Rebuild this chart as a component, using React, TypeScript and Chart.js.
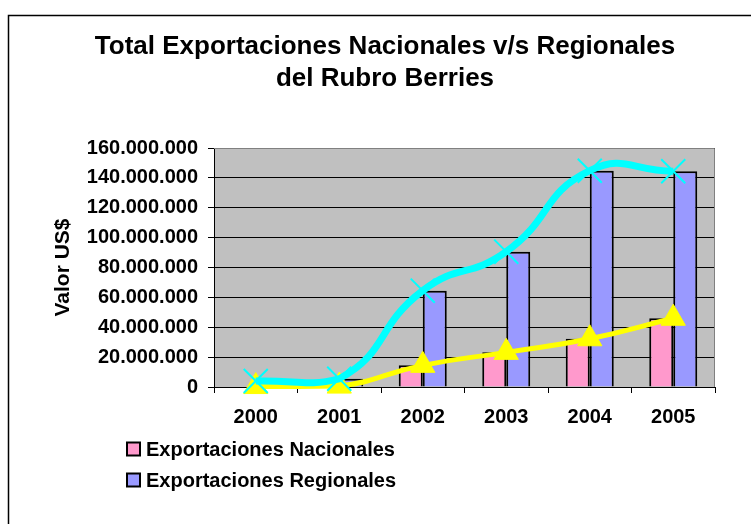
import React, { useEffect, useRef } from "react";
import { Chart, registerables } from "chart.js";

Chart.register(...registerables);

const categories = ["2000", "2001", "2002", "2003", "2004", "2005"];
const nacionales = [300000, 600000, 14500000, 23200000, 32300000, 46000000];
const regionales = [4000000, 5500000, 64500000, 90600000, 144800000, 144400000];
const yTicks = [0, 20000000, 40000000, 60000000, 80000000, 100000000, 120000000, 140000000, 160000000];
const titleLines = ["Total Exportaciones Nacionales v/s Regionales", "del Rubro Berries"];
const seriesLabels = ["Exportaciones Nacionales", "Exportaciones Regionales"];
const yTitle = "Valor US$";

const FONT = "'Liberation Sans', Arial, sans-serif";
const PINK = "#FF99CC";
const BLUE = "#9999FF";
const CYAN = "#00FFFF";
const YELLOW = "#FFFF00";

function fmt(v: number): string {
  return String(Math.round(v)).replace(/\B(?=(\d{3})+(?!\d))/g, ".");
}

const framePlugin = {
  id: "frameAndBg",
  beforeDraw(chart: any) {
    const { ctx, chartArea } = chart;
    ctx.save();
    ctx.fillStyle = "#FFFFFF";
    ctx.fillRect(0, 0, chart.width, chart.height);
    ctx.strokeStyle = "#000000";
    ctx.lineWidth = 1.5;
    ctx.strokeRect(8.5, 15.5, chart.width + 20, chart.height + 20);
    ctx.fillStyle = "#C0C0C0";
    ctx.fillRect(chartArea.left, chartArea.top, chartArea.right - chartArea.left, chartArea.bottom - chartArea.top);
    ctx.restore();
  },
  afterDatasetsDraw(chart: any) {
    const { ctx, chartArea } = chart;
    ctx.save();
    ctx.strokeStyle = "#808080";
    ctx.lineWidth = 1;
    ctx.beginPath();
    ctx.moveTo(chartArea.left, chartArea.top + 0.5);
    ctx.lineTo(chartArea.right - 0.5, chartArea.top + 0.5);
    ctx.lineTo(chartArea.right - 0.5, chartArea.bottom);
    ctx.stroke();
    ctx.restore();
  },
  afterDraw(chart: any) {
    const { ctx } = chart;
    const colors = [PINK, BLUE];
    const rows = [449, 480];
    ctx.save();
    ctx.font = `bold 20px ${FONT}`;
    ctx.textBaseline = "middle";
    ctx.textAlign = "left";
    seriesLabels.forEach((label, i) => {
      const y = rows[i];
      ctx.fillStyle = colors[i];
      ctx.fillRect(127, y - 6.5, 13, 13);
      ctx.strokeStyle = "#000000";
      ctx.lineWidth = 2;
      ctx.strokeRect(127, y - 6.5, 13, 13);
      ctx.fillStyle = "#000000";
      ctx.fillText(label, 146, y + 1);
    });
    ctx.restore();
  },
};

export default function App() {
  const ref = useRef<HTMLCanvasElement | null>(null);

  useEffect(() => {
    if (!ref.current) return;
    const chart = new Chart(ref.current, {
      type: "bar",
      data: {
        labels: categories,
        datasets: [
          {
            type: "line",
            label: seriesLabels[1] + " (línea)",
            data: regionales,
            borderColor: CYAN,
            backgroundColor: CYAN,
            borderWidth: 7,
            tension: 0.5,
            pointStyle: "crossRot",
            pointRadius: 17,
            pointBorderWidth: 2,
            pointBorderColor: CYAN,
            clip: false,
            order: 0,
          } as any,
          {
            type: "line",
            label: seriesLabels[0] + " (línea)",
            data: nacionales,
            borderColor: YELLOW,
            backgroundColor: YELLOW,
            borderWidth: 5,
            tension: 0.5,
            pointStyle: "triangle",
            pointRadius: 14,
            pointBorderWidth: 1,
            pointBorderColor: YELLOW,
            pointBackgroundColor: YELLOW,
            clip: false,
            order: 1,
          } as any,
          {
            label: seriesLabels[0],
            data: nacionales,
            backgroundColor: PINK,
            borderColor: "#000000",
            borderWidth: 2,
            barPercentage: 1,
            categoryPercentage: 0.575,
            order: 2,
          },
          {
            label: seriesLabels[1],
            data: regionales,
            backgroundColor: BLUE,
            borderColor: "#000000",
            borderWidth: 2,
            barPercentage: 1,
            categoryPercentage: 0.575,
            order: 2,
          },
        ],
      },
      options: {
        animation: false,
        responsive: true,
        maintainAspectRatio: false,
        layout: { padding: { left: 55, right: 36, top: 0, bottom: 87 } },
        plugins: {
          legend: { display: false },
          tooltip: { enabled: false },
          title: {
            display: true,
            text: titleLines,
            color: "#000000",
            font: { family: FONT, size: 26, weight: "bold", lineHeight: 32 / 26 },
            padding: { top: 31, bottom: 53 },
          },
        },
        scales: {
          x: {
            afterFit: (s: any) => {
              s.height = 50;
            },
            grid: {
              drawOnChartArea: false,
              color: "#000000",
              tickLength: 6,
              tickColor: "#000000",
            },
            border: { color: "#000000", width: 1 },
            ticks: {
              color: "#000000",
              font: { family: FONT, size: 20, weight: "bold" },
              padding: 12,
              maxRotation: 0,
            },
          },
          y: {
            min: 0,
            max: 160000000,
            afterFit: (s: any) => {
              s.width = 159;
            },
            afterBuildTicks: (s: any) => {
              s.ticks = yTicks.map((v) => ({ value: v }));
            },
            grid: {
              color: "#000000",
              lineWidth: 1,
              tickLength: 6,
              tickColor: "#000000",
            },
            border: { color: "#000000", width: 1 },
            ticks: {
              color: "#000000",
              font: { family: FONT, size: 20, weight: "bold" },
              padding: 10,
              callback: (v: any) => fmt(Number(v)),
            },
            title: {
              display: true,
              text: yTitle,
              color: "#000000",
              font: { family: FONT, size: 21, weight: "bold", lineHeight: 1.2 },
              padding: { top: -4.5, bottom: 0 },
            },
          },
        },
      },
      plugins: [framePlugin],
    });
    return () => chart.destroy();
  }, []);

  return (
    <div style={{ position: "fixed", left: 0, top: 0, width: 751, height: 524, background: "#fff" }}>
      <canvas ref={ref} />
    </div>
  );
}
